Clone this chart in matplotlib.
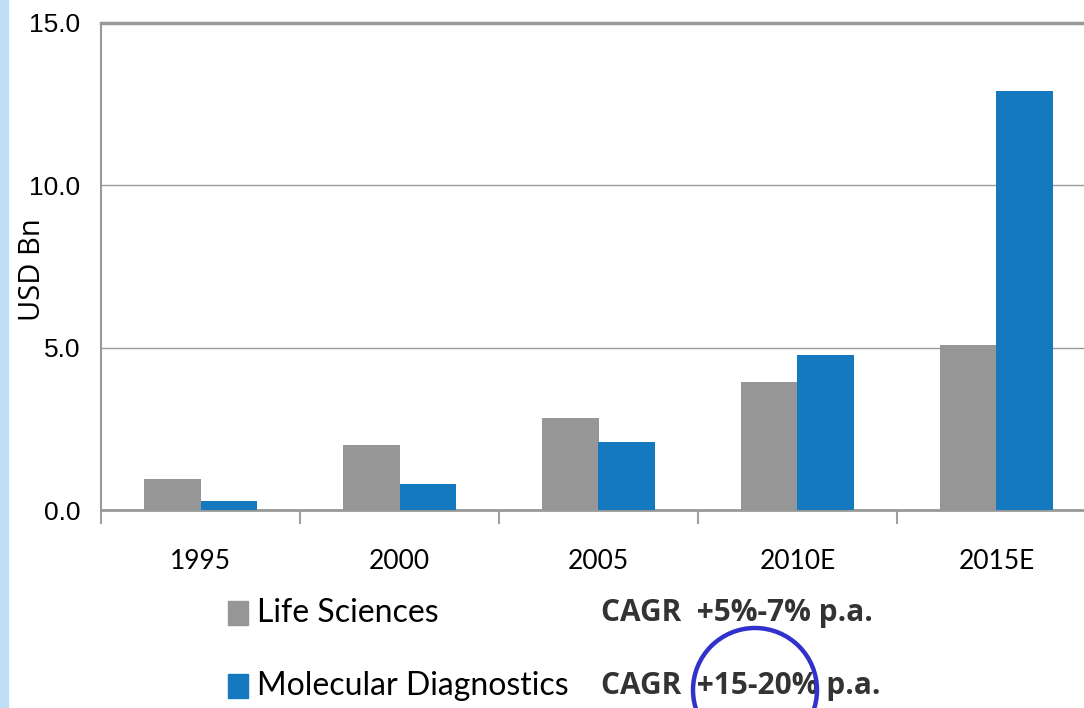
import matplotlib.pyplot as plt
import numpy as np
from matplotlib.patches import Ellipse, Rectangle

years = ["1995", "2000", "2005", "2010E", "2015E"]
life_sciences = [0.95, 2.0, 2.83, 3.94, 5.08]
molecular_dx = [0.28, 0.8, 2.09, 4.77, 12.9]
series_names = ["Life Sciences", "Molecular Diagnostics"]
cagr_labels = ["CAGR  +5%-7% p.a.", "CAGR  +15-20% p.a."]

GRAY = "#969696"
BLUE = "#1479BF"

plt.rcParams["font.family"] = ["Liberation Sans", "DejaVu Sans"]

W, H = 1084, 708
fig = plt.figure(figsize=(W / 100, H / 100), dpi=100)

# light blue strip on the left edge
fig.patches.append(Rectangle((0, 0), 8 / W, 1, transform=fig.transFigure,
                             color="#BFDFF7", zorder=0))

# axes runs past the right edge of the picture (clipped like the original)
ax = fig.add_axes([101 / W, (H - 510) / H, 995 / W, 487 / H])

x = np.arange(len(years))
bw = 0.286
ax.bar(x - bw / 2, life_sciences, bw, color=GRAY, zorder=3)
ax.bar(x + bw / 2, molecular_dx, bw, color=BLUE, zorder=3)

ax.set_xlim(-0.5, len(years) - 0.5)
ax.set_ylim(0, 15)
ax.set_yticks([0, 5, 10, 15])
ax.set_yticklabels([f"{v:.1f}" for v in [0, 5, 10, 15]], fontsize=19)
ax.yaxis.grid(True, color="#9a9a9a", linewidth=1.0, zorder=0)
ax.tick_params(axis="y", length=0, pad=15)

# category labels centred, tick marks on the boundaries
ax.set_xticks(x)
ax.set_xticklabels(years, family="Lato", fontsize=19)
ax.set_xticks(np.arange(len(years) + 1) - 0.5, minor=True)
ax.tick_params(axis="x", which="major", length=0, pad=28)
ax.tick_params(axis="x", which="minor", length=10, width=1.5, color="#a0a0a0")

for side in ["left", "bottom", "top"]:
    ax.spines[side].set_color("#999999")
ax.spines["left"].set_linewidth(1.5)
ax.spines["bottom"].set_linewidth(2.0)
ax.spines["top"].set_linewidth(2.5)
ax.spines["right"].set_visible(False)

fig.text(33 / W, 1 - 270 / H, "USD Bn", rotation=90, ha="center", va="center",
         family="Open Sans", fontsize=21)

# legend drawn by hand, with CAGR notes beside each entry
colors = [GRAY, BLUE]
rows_y = [613, 686]
for name, col, cagr, yy in zip(series_names, colors, cagr_labels, rows_y):
    fig.patches.append(Rectangle((228 / W, 1 - (yy + 12) / H), 20 / W, 24 / H,
                                 transform=fig.transFigure, color=col))
    fig.text(257 / W, 1 - yy / H, name, ha="left", va="center",
             family="Lato", fontsize=23)
    fig.text(601 / W, 1 - yy / H, cagr, ha="left", va="center",
             family="Open Sans", fontweight="bold", fontsize=21.5, color="#333333")

fig.patches.append(Ellipse((755 / W, 1 - 690 / H), 124 / W, 124 / H,
                           transform=fig.transFigure, fill=False,
                           edgecolor="#3131CC", linewidth=3.2, zorder=5))

fig.savefig("out.png", dpi=100)
